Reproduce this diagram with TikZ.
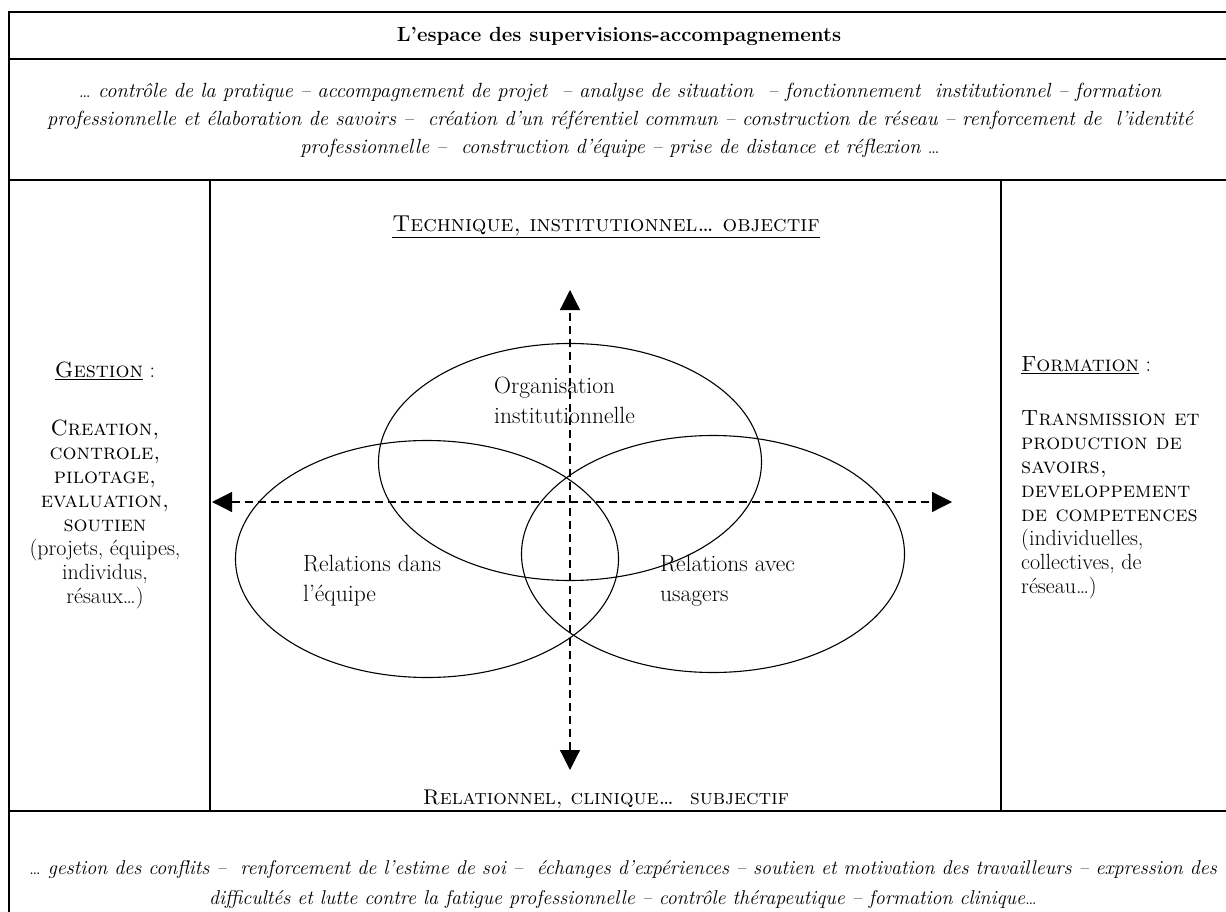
\documentclass[tikz,border=0pt]{standalone}
\usepackage{tikz}
\usetikzlibrary{shapes.geometric,positioning,arrows.meta}

\tikzstyle{every node}=[inner sep=0pt]
\tikzstyle{cadre}=[line width=1.5pt]
\tikzstyle{zone}=[draw, ellipse, line width=1.1pt, minimum width=383pt, minimum height=237pt]
\tikzstyle{axe}=[line width=1.2pt, dash pattern=on 8pt off 5pt, {Triangle[length=20pt,width=20pt]}-{Triangle[length=20pt,width=20pt]}]
\tikzstyle{titre}=[font={\fontsize{20.5}{24}\selectfont\bfseries}]
\tikzstyle{liste}=[align=center, font={\fontsize{20.5}{28}\selectfont\itshape}]
\tikzstyle{pole}=[font={\fontsize{22}{26}\selectfont}]
\tikzstyle{colonne}=[font={\fontsize{22}{24}\selectfont}]
\tikzstyle{etiquette}=[align=left, font={\fontsize{23.5}{30}\selectfont}]

\begin{document}
\begin{tikzpicture}[x=1pt,y=-1pt]
    \useasboundingbox (0,0) rectangle (1226,912);

    % le tableau
    \draw[cadre] (9,930) -- (9,12) -- (1240,12);
    \draw[cadre] (9,59) -- (1240,59);
    \draw[cadre] (9,180) -- (1240,180);
    \draw[cadre] (9,811) -- (1240,811);
    \draw[cadre] (210,180) -- (210,811);
    \draw[cadre] (1001,180) -- (1001,811);

    \node[titre] (titre) at (619,36) {L'espace des supervisions-accompagnements};
    \node[liste] (pratiques) at (620,120) {{\upshape\ldots} contrôle de la pratique -- accompagnement de projet \ -- analyse de situation \ -- fonctionnement \ institutionnel -- formation\\
        professionnelle et élaboration de savoirs -- \ création d'un référentiel commun -- construction de réseau -- renforcement de \ l'identité\\
        professionnelle -- \ construction d'équipe -- prise de distance et réflexion {\upshape\ldots}};

    % les deux poles
    \node[pole, font={\fontsize{23}{27}\selectfont}] (tech) at (606,227) {\underline{\textsc{Technique, institutionnel\ldots{} objectif}}};
    \node[pole, font={\fontsize{21.3}{25}\selectfont}] (rel) at (606,799) {\textsc{Relationnel, clinique\ldots{}\ \ subjectif}};

    \node[colonne, align=center, anchor=north] (gestion) at (105,362) {\underline{\textsc{Gestion}} :\\[34pt]
        \textsc{Creation,}\\ \textsc{controle,}\\ \textsc{pilotage,}\\ \textsc{evaluation,}\\ \textsc{soutien}\\
        (projets, équipes,\\ individus,\\ résaux\ldots)};
    \node[colonne, align=left, anchor=north west] (formation) at (1021,356) {\underline{\textsc{Formation}} :\\[30pt]
        \textsc{Transmission et}\\ \textsc{production de}\\ \textsc{savoirs,}\\ \textsc{developpement}\\ \textsc{de competences}\\
        (individuelles,\\ collectives, de\\ réseau\ldots)};

    % axes
    \coordinate (nord) at (570,290);
    \coordinate (sud) at (570,770);
    \coordinate (ouest) at (212,502);
    \coordinate (est) at (952,502);
    \draw[axe] (sud) -- (nord);
    \draw[axe] (ouest) -- (est);

    % les trois espaces
    \node[zone] (orga) at (570,462) {};
    \node[zone] (equipe) at (427,559) {};
    \node[zone] (usagers) at (713,554) {};
    \node[etiquette, anchor=west] (txtorga) at (494,400) {Organisation\\institutionnelle};
    \node[etiquette, anchor=west] (txtequipe) at (303,581) {Relations dans\\l'équipe};
    \node[etiquette] (txtusagers) [right=357pt of txtequipe.west] {Relations avec\\usagers};

    \node[liste, font={\fontsize{20}{30}\selectfont\itshape}] (relations) at (623,884) {{\upshape\ldots} gestion des conflits -- \ renforcement de l'estime de soi -- \ échanges d'expériences -- soutien et motivation des travailleurs -- expression des\\
        difficultés et lutte contre la fatigue professionnelle -- contrôle thérapeutique -- formation clinique{\upshape\ldots}};
\end{tikzpicture}
\end{document}
